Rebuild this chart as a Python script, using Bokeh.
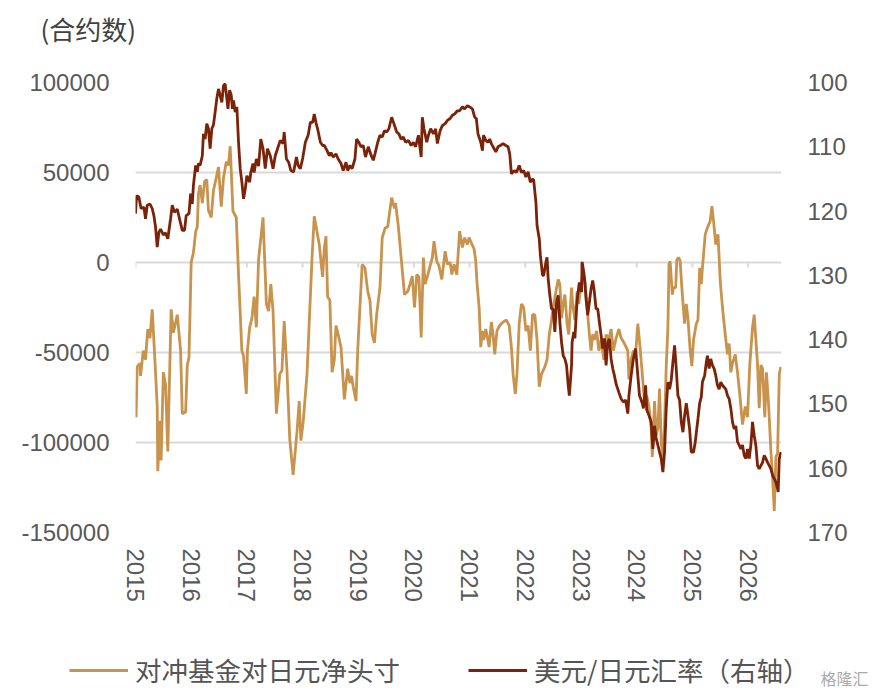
from bokeh.plotting import figure
from bokeh.layouts import column
from bokeh.models import (Range1d, LinearAxis, FixedTicker, Legend, LegendItem, Label)
from bokeh.embed import file_html
from bokeh.resources import INLINE

# ---------------- data ----------------
year_ticks = [2015, 2016, 2017, 2018, 2019, 2020, 2021, 2022, 2023, 2024, 2025, 2026]
year_labels = [str(y) for y in year_ticks]
left_ticks = [-150000, -100000, -50000, 0, 50000, 100000]
left_labels = ["-150000", "-100000", "-50000", "0", "50000", "100000"]
right_ticks = [100, 110, 120, 130, 140, 150, 160, 170]
series_names = ["对冲基金对日元净头寸", "美元/日元汇率（右轴）"]
unit_text = "(合约数)"
watermark_text = "格隆汇"

# hedge-fund net yen position (contracts)
pos_years = [2015.00, 2015.01, 2015.03, 2015.08, 2015.09, 2015.14, 2015.18, 2015.22, 2015.26, 2015.30,
             2015.34, 2015.39, 2015.40, 2015.44, 2015.46, 2015.50, 2015.54, 2015.58, 2015.64, 2015.68,
             2015.75, 2015.81, 2015.84, 2015.90, 2015.93, 2015.96, 2016.00, 2016.04, 2016.08, 2016.11,
             2016.13, 2016.16, 2016.20, 2016.24, 2016.28, 2016.31, 2016.36, 2016.40, 2016.45, 2016.49,
             2016.54, 2016.58, 2016.63, 2016.67, 2016.70, 2016.75, 2016.81, 2016.85, 2016.91, 2016.94,
             2016.99, 2017.01, 2017.05, 2017.09, 2017.13, 2017.17, 2017.21, 2017.29, 2017.33, 2017.35,
             2017.39, 2017.43, 2017.47, 2017.53, 2017.59, 2017.63, 2017.67, 2017.72, 2017.77, 2017.83,
             2017.90, 2017.94, 2017.97, 2018.01, 2018.08, 2018.12, 2018.17, 2018.21, 2018.26, 2018.30,
             2018.33, 2018.36, 2018.39, 2018.42, 2018.45, 2018.49, 2018.53, 2018.57, 2018.60, 2018.64,
             2018.69, 2018.75, 2018.81, 2018.85, 2018.88, 2018.91, 2018.96, 2018.99, 2019.03, 2019.07,
             2019.12, 2019.17, 2019.21, 2019.25, 2019.29, 2019.33, 2019.39, 2019.43, 2019.48, 2019.53,
             2019.55, 2019.60, 2019.65, 2019.67, 2019.72, 2019.77, 2019.83, 2019.89, 2019.93, 2019.97,
             2020.01, 2020.05, 2020.09, 2020.13, 2020.17, 2020.20, 2020.25, 2020.29, 2020.33, 2020.36,
             2020.41, 2020.45, 2020.50, 2020.56, 2020.60, 2020.65, 2020.68, 2020.72, 2020.77, 2020.82,
             2020.87, 2020.91, 2020.96, 2020.99, 2021.03, 2021.08, 2021.11, 2021.13, 2021.17, 2021.20,
             2021.23, 2021.25, 2021.29, 2021.31, 2021.35, 2021.39, 2021.42, 2021.45, 2021.49, 2021.54,
             2021.60, 2021.66, 2021.71, 2021.75, 2021.78, 2021.82, 2021.85, 2021.89, 2021.93, 2021.97,
             2022.01, 2022.05, 2022.09, 2022.13, 2022.17, 2022.21, 2022.25, 2022.29, 2022.35, 2022.39,
             2022.43, 2022.47, 2022.50, 2022.55, 2022.59, 2022.62, 2022.65, 2022.68, 2022.71, 2022.75,
             2022.78, 2022.83, 2022.85, 2022.89, 2022.93, 2022.96, 2022.99, 2023.03, 2023.06, 2023.11,
             2023.15, 2023.18, 2023.21, 2023.24, 2023.28, 2023.32, 2023.36, 2023.41, 2023.45, 2023.50,
             2023.54, 2023.58, 2023.63, 2023.68, 2023.72, 2023.76, 2023.81, 2023.84, 2023.86, 2023.90,
             2023.94, 2023.98, 2024.02, 2024.06, 2024.10, 2024.14, 2024.18, 2024.22, 2024.26, 2024.28,
             2024.32, 2024.35, 2024.38, 2024.41, 2024.44, 2024.47, 2024.50, 2024.53, 2024.56, 2024.58,
             2024.60, 2024.64, 2024.66, 2024.70, 2024.72, 2024.75, 2024.78, 2024.81, 2024.86, 2024.89,
             2024.92, 2024.96, 2024.99, 2025.02, 2025.07, 2025.10, 2025.13, 2025.16, 2025.18, 2025.23,
             2025.27, 2025.32, 2025.35, 2025.38, 2025.42, 2025.46, 2025.50, 2025.54, 2025.59, 2025.63,
             2025.66, 2025.69, 2025.72, 2025.77, 2025.81, 2025.85, 2025.90, 2025.95, 2025.99, 2026.03,
             2026.08, 2026.11, 2026.14, 2026.17, 2026.20, 2026.23, 2026.26, 2026.30, 2026.33, 2026.37,
             2026.41, 2026.44, 2026.47, 2026.50, 2026.53, 2026.56, 2026.59]
pos_values = [-80000, -86000, -58000, -56000, -63000, -49000, -54000, -37000, -42000, -26000,
              -49000, -80000, -116000, -88000, -110000, -61000, -68000, -105000, -26000, -39000,
              -29000, -49000, -84000, -83000, -57000, -53000, 0, 5500, 17000, 20000,
              38000, 43000, 33000, 45000, 46000, 29000, 25000, 40000, 47000, 53000,
              31000, 47000, 56000, 54000, 64600, 28500, 25000, -6700, -49000, -52000,
              -73000, -49000, -36000, -31000, -19000, -36000, 1700, 25000, -6700, -23000,
              -27000, -12000, -27000, -84000, -62000, -60000, -32600, -60000, -98000, -118000,
              -94000, -77000, -99000, -89000, -62000, -33000, 2700, 25700, 17000, 10000,
              700, -8000, 8000, 14600, -19000, -21000, -61000, -54000, -35000, -40000,
              -47000, -76000, -59000, -67000, -63000, -69000, -77000, -49000, -25000, -1100,
              -3000, -16000, -21000, -40000, -44600, -29000, -14000, 13700, 19000, 20000,
              25000, 36000, 30000, 33000, 20000, 2700, -17800, -16000, -12000, -7600,
              -25000, -6700, -8000, -41700, 2700, -12000, -6700, -1900, 2700, 11800,
              700, -1900, -9400, 6300, -1000, 0, -6700, -1000, -6700, 17400,
              8300, 13800, 10000, 13800, 11000, 7500, 700, -10400, -25000, -47000,
              -38000, -43000, -37000, -40000, -47000, -33000, -40000, -51000, -38000, -35000,
              -33000, -32000, -35000, -47000, -62000, -73000, -62000, -34000, -23000, -25000,
              -38000, -35000, -49000, -29000, -29000, -43000, -69000, -62000, -58000, -54000,
              -40000, -32000, -25000, -16000, -9400, -12000, -31000, -23000, -17800, -34000,
              -40000, -14000, -23000, -32000, -16000, -23000, -14000, -6700, -8000, -25000,
              -40000, -49000, -40000, -43000, -38000, -49000, -43000, -54000, -40000, -43000,
              -37000, -49000, -42000, -37000, -42000, -44000, -47000, -49000, -65000, -54000,
              -49000, -51000, -34000, -47000, -62000, -77000, -74000, -80000, -92000, -108000,
              -77000, -96000, -92000, -70000, -100000, -108000, -90000, -58000, -36000, -1000,
              700, -17800, -14000, -14000, 1500, 2800, 1000, -14000, -34000, -23000,
              -31000, -49000, -57600, -43000, -34000, -32000, -3000, -12000, -3000, 15600,
              19400, 23000, 31300, 23000, 10000, 15600, -10400, -25000, -40000, -51000,
              -45000, -61000, -56000, -51000, -61000, -73000, -90000, -80000, -86000, -57000,
              -36000, -29000, -43000, -57000, -81000, -57000, -59000, -86000, -61000, -80000,
              -105000, -119600, -138000, -108000, -106000, -62000, -58000]

# USD/JPY exchange rate (right axis, inverted)
fx_years = [2015.00, 2015.02, 2015.06, 2015.10, 2015.15, 2015.18, 2015.21, 2015.26, 2015.30, 2015.33,
            2015.36, 2015.39, 2015.42, 2015.45, 2015.50, 2015.54, 2015.58, 2015.63, 2015.66, 2015.70,
            2015.75, 2015.79, 2015.84, 2015.88, 2015.91, 2015.96, 2015.99, 2016.02, 2016.04, 2016.08,
            2016.11, 2016.13, 2016.16, 2016.20, 2016.22, 2016.25, 2016.28, 2016.31, 2016.34, 2016.37,
            2016.40, 2016.43, 2016.46, 2016.49, 2016.52, 2016.55, 2016.58, 2016.61, 2016.64, 2016.66,
            2016.69, 2016.72, 2016.74, 2016.76, 2016.79, 2016.82, 2016.85, 2016.88, 2016.91, 2016.94,
            2016.97, 2017.00, 2017.05, 2017.07, 2017.11, 2017.13, 2017.17, 2017.21, 2017.25, 2017.29,
            2017.33, 2017.37, 2017.42, 2017.47, 2017.51, 2017.55, 2017.60, 2017.65, 2017.67, 2017.71,
            2017.75, 2017.79, 2017.84, 2017.89, 2017.92, 2017.96, 2018.00, 2018.05, 2018.10, 2018.14,
            2018.18, 2018.21, 2018.24, 2018.27, 2018.32, 2018.36, 2018.39, 2018.44, 2018.48, 2018.51,
            2018.55, 2018.60, 2018.64, 2018.69, 2018.73, 2018.78, 2018.81, 2018.85, 2018.89, 2018.94,
            2018.97, 2019.01, 2019.05, 2019.09, 2019.13, 2019.18, 2019.23, 2019.27, 2019.30, 2019.35,
            2019.39, 2019.43, 2019.47, 2019.51, 2019.55, 2019.60, 2019.64, 2019.69, 2019.73, 2019.77,
            2019.81, 2019.85, 2019.90, 2019.95, 2019.99, 2020.03, 2020.08, 2020.13, 2020.15, 2020.18,
            2020.23, 2020.26, 2020.30, 2020.35, 2020.39, 2020.42, 2020.47, 2020.51, 2020.56, 2020.60,
            2020.65, 2020.69, 2020.73, 2020.78, 2020.82, 2020.87, 2020.91, 2020.96, 2021.00, 2021.05,
            2021.09, 2021.12, 2021.15, 2021.20, 2021.23, 2021.25, 2021.29, 2021.33, 2021.36, 2021.39,
            2021.42, 2021.47, 2021.51, 2021.55, 2021.60, 2021.65, 2021.69, 2021.72, 2021.75, 2021.80,
            2021.84, 2021.89, 2021.93, 2021.97, 2022.01, 2022.05, 2022.09, 2022.13, 2022.15, 2022.19,
            2022.21, 2022.25, 2022.27, 2022.31, 2022.33, 2022.37, 2022.39, 2022.41, 2022.44, 2022.47,
            2022.50, 2022.53, 2022.56, 2022.59, 2022.62, 2022.65, 2022.68, 2022.71, 2022.74, 2022.77,
            2022.79, 2022.83, 2022.84, 2022.87, 2022.89, 2022.92, 2022.94, 2022.97, 2023.01, 2023.02,
            2023.05, 2023.07, 2023.09, 2023.12, 2023.15, 2023.18, 2023.21, 2023.24, 2023.27, 2023.30,
            2023.33, 2023.36, 2023.39, 2023.42, 2023.45, 2023.48, 2023.51, 2023.54, 2023.57, 2023.60,
            2023.63, 2023.68, 2023.72, 2023.76, 2023.80, 2023.84, 2023.86, 2023.90, 2023.94, 2023.98,
            2024.02, 2024.05, 2024.10, 2024.12, 2024.16, 2024.18, 2024.22, 2024.26, 2024.29, 2024.32,
            2024.35, 2024.38, 2024.41, 2024.44, 2024.47, 2024.50, 2024.53, 2024.56, 2024.59, 2024.62,
            2024.65, 2024.68, 2024.71, 2024.74, 2024.77, 2024.80, 2024.83, 2024.86, 2024.89, 2024.92,
            2024.95, 2024.98, 2025.02, 2025.05, 2025.10, 2025.13, 2025.16, 2025.18, 2025.22, 2025.25,
            2025.27, 2025.30, 2025.33, 2025.36, 2025.39, 2025.42, 2025.45, 2025.48, 2025.51, 2025.54,
            2025.57, 2025.60, 2025.63, 2025.66, 2025.69, 2025.72, 2025.75, 2025.78, 2025.81, 2025.84,
            2025.87, 2025.90, 2025.93, 2025.96, 2025.99, 2026.02, 2026.05, 2026.08, 2026.11, 2026.14,
            2026.17, 2026.20, 2026.23, 2026.26, 2026.29, 2026.32, 2026.35, 2026.38, 2026.41, 2026.44,
            2026.47, 2026.50, 2026.53, 2026.54, 2026.56, 2026.59]
fx_values = [120.4, 117.6, 117.8, 119.6, 119.4, 121.2, 119.1, 118.9, 119.6, 120.7,
             122.5, 125.6, 123.3, 122.8, 123.7, 123.4, 124.3, 121.2, 119.1, 120.2,
             119.7, 121.2, 123.0, 123.0, 120.7, 120.4, 117.3, 118.9, 116.0, 112.9,
             113.9, 112.6, 112.9, 111.4, 108.0, 108.8, 106.4, 107.2, 110.3, 107.2,
             106.6, 104.6, 102.5, 101.0, 102.0, 103.1, 100.5, 100.2, 102.5, 104.1,
             101.2, 102.0, 104.1, 102.8, 104.6, 103.8, 109.3, 113.4, 115.5, 118.1,
             116.6, 114.5, 115.5, 114.0, 112.6, 114.0, 111.9, 113.0, 108.8, 110.3,
             113.4, 110.3, 111.4, 113.4, 111.4, 110.3, 109.0, 109.5, 107.7, 111.9,
             112.4, 113.7, 113.9, 111.6, 112.9, 113.4, 111.9, 109.3, 108.2, 106.2,
             106.2, 104.9, 106.2, 107.2, 109.3, 109.8, 109.8, 110.6, 111.4, 110.9,
             111.6, 111.1, 111.9, 112.6, 113.7, 112.4, 113.7, 112.9, 113.4, 111.9,
             108.8, 109.3, 110.0, 109.8, 111.6, 110.0, 111.3, 112.1, 111.1, 109.3,
             108.2, 108.5, 107.5, 107.7, 107.2, 105.4, 106.4, 107.7, 108.0, 108.8,
             108.5, 109.3, 109.0, 109.8, 109.3, 110.0, 108.2, 111.6, 105.4, 107.2,
             109.3, 108.2, 107.2, 108.0, 107.2, 109.5, 107.5, 106.7, 106.4, 105.9,
             105.6, 105.1, 104.9, 104.4, 104.4, 103.8, 104.1, 103.6, 103.8, 104.1,
             105.4, 105.6, 108.0, 109.3, 110.6, 108.2, 109.0, 109.3, 108.8, 109.5,
             110.0, 110.8, 110.0, 109.8, 109.5, 109.8, 110.0, 111.1, 114.2, 113.7,
             114.0, 112.9, 114.0, 113.7, 114.7, 113.9, 115.5, 115.0, 115.2, 118.6,
             122.2, 124.3, 126.9, 130.0, 130.0, 127.9, 127.2, 130.5, 133.1, 135.2,
             135.2, 138.8, 134.2, 133.1, 137.3, 140.4, 142.5, 143.0, 144.0, 147.1,
             148.7, 144.0, 140.4, 138.8, 139.8, 135.2, 133.1, 131.1, 132.6, 127.9,
             129.5, 131.1, 133.6, 136.2, 134.2, 132.1, 130.8, 132.6, 135.2, 135.2,
             137.3, 139.3, 141.4, 139.8, 144.0, 140.4, 139.9, 143.0, 144.5, 145.6,
             146.9, 148.2, 149.2, 149.7, 149.4, 151.5, 148.7, 145.6, 143.0, 141.4,
             145.6, 148.7, 149.9, 150.7, 147.1, 150.9, 151.8, 152.8, 157.0, 153.4,
             155.4, 156.4, 157.5, 158.5, 160.6, 157.5, 150.7, 146.6, 147.7, 146.3,
             143.5, 140.9, 144.5, 148.7, 149.4, 152.8, 154.4, 151.8, 149.9, 151.8,
             153.9, 157.5, 157.5, 156.0, 152.3, 149.9, 148.9, 146.6, 145.6, 143.5,
             142.5, 144.5, 143.0, 144.0, 144.5, 145.6, 147.1, 147.7, 146.6, 147.1,
             147.4, 147.7, 148.7, 149.2, 150.7, 152.8, 153.9, 153.4, 155.9, 156.4,
             157.0, 156.4, 158.0, 158.5, 157.0, 158.5, 156.4, 152.8, 154.9, 156.5,
             159.6, 160.1, 159.6, 159.1, 158.0, 158.5, 159.1, 159.6, 160.1, 161.1,
             161.6, 162.2, 163.2, 163.7, 158.5, 157.5]

TAN = "#C8934C"
DARK = "#7A2308"
GRID = "#D9D9D9"
TICK_TXT = "#595959"
TXT = "#404040"
NUM_FONT = "Liberation Sans"
CJK_FONT = "Noto Sans CJK SC"

W = 875


def bare_strip(height):
    f = figure(width=W, height=height, output_backend="svg", toolbar_location=None,
               x_range=Range1d(0, 1), y_range=Range1d(0, 1),
               min_border_left=0, min_border_right=0, min_border_top=0, min_border_bottom=0)
    f.frame_align = False
    f.axis.visible = False
    f.grid.visible = False
    f.outline_line_color = None
    f.background_fill_color = "white"
    f.border_fill_color = "white"
    return f


# ---- header strip with unit text ----
hd = bare_strip(60)
hd.add_layout(Label(x=40, y=32, x_units="screen", y_units="screen", text=unit_text,
                    text_baseline="middle", text_font=CJK_FONT, text_font_size="26px",
                    text_color=TXT))

# ---- main chart ----
p = figure(width=W, height=550, output_backend="svg", toolbar_location=None,
           x_range=Range1d(2015, 2026.6), y_range=Range1d(-150000, 100000),
           min_border_left=135, min_border_right=94, min_border_top=22, min_border_bottom=78)
p.frame_align = False
p.extra_y_ranges = {"fx": Range1d(start=170, end=100)}
p.outline_line_color = None
p.background_fill_color = "white"
p.border_fill_color = "white"

p.xgrid.visible = False
p.ygrid.grid_line_color = GRID
p.ygrid.grid_line_width = 2


def style_axis(ax, standoff):
    ax.axis_line_color = None
    ax.major_tick_line_color = None
    ax.minor_tick_line_color = None
    ax.major_tick_out = 0
    ax.major_tick_in = 0
    ax.minor_tick_out = 0
    ax.major_label_standoff = standoff
    ax.major_label_text_font = NUM_FONT
    ax.major_label_text_font_size = "24px"
    ax.major_label_text_color = TICK_TXT


ya = p.yaxis[0]
ya.ticker = FixedTicker(ticks=left_ticks)
ya.major_label_overrides = {t: l for t, l in zip(left_ticks, left_labels)}
style_axis(ya, 26)

ra = LinearAxis(y_range_name="fx", ticker=FixedTicker(ticks=right_ticks))
style_axis(ra, 26)
p.add_layout(ra, "right")

xa = p.xaxis[0]
xa.ticker = FixedTicker(ticks=year_ticks)
xa.major_label_overrides = {y: l for y, l in zip(year_ticks, year_labels)}
xa.major_label_orientation = "vertical"
style_axis(xa, 16)

# small tick marks on the zero line
p.segment(x0=year_ticks, y0=[0] * len(year_ticks), x1=year_ticks,
          y1=[-2800] * len(year_ticks), line_color=GRID, line_width=2)

p.line(pos_years, pos_values, line_color=TAN, line_width=2.8)
p.line(fx_years, fx_values, line_color=DARK, line_width=2.8, y_range_name="fx")

# ---- legend strip ----
lg = bare_strip(80)
# same series drawn off-range in this strip, so only their legend swatches show
k1 = lg.line(pos_years, pos_values, line_color=TAN, line_width=3)
k2 = lg.line(fx_years, fx_values, line_color=DARK, line_width=3)
legend = Legend(items=[LegendItem(label=series_names[0], renderers=[k1]),
                       LegendItem(label=series_names[1], renderers=[k2])],
                orientation="horizontal", location=(69, 1),
                glyph_width=59, glyph_height=24, label_standoff=7, spacing=68,
                padding=0, margin=0, border_line_color=None, background_fill_alpha=0,
                label_text_font=CJK_FONT, label_text_font_size="26.5px",
                label_text_color="#555555")
lg.add_layout(legend, "center")
lg.add_layout(Label(x=820, y=13, x_units="screen", y_units="screen", text=watermark_text,
                    text_baseline="middle", text_font=CJK_FONT, text_font_size="16px",
                    text_color="#AAAAAA"))

page = column(hd, p, lg, spacing=0)
open("out.html", "w").write(file_html(page, INLINE))
